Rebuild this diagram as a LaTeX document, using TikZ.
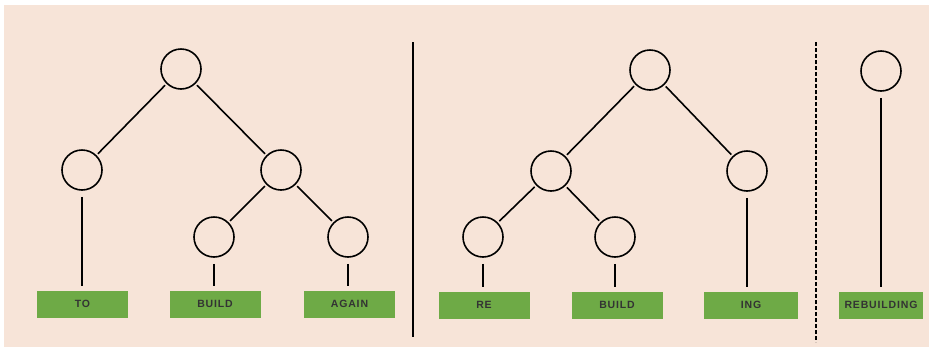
\documentclass[tikz,border=0pt]{standalone}
\usepackage{fontspec}
\newfontfamily\wordfont[LetterSpace=8]{Liberation Sans}
\usepackage{xcolor}
\usetikzlibrary{positioning}
\definecolor{paper}{RGB}{247,228,216}
\definecolor{leafgreen}{RGB}{110,170,70}

\begin{document}
\begin{tikzpicture}[x=1pt,y=-1pt,line width=1.6pt,
  nd/.style={draw,circle,minimum size=40pt,inner sep=0pt},
  word/.style={fill=leafgreen,minimum width=91pt,minimum height=27pt,inner sep=1pt,
    font=\wordfont\fontsize{10.5}{12}\selectfont\bfseries,text=black!80},
  ln/.style={shorten <=2pt,shorten >=2pt},
  stem/.style={shorten <=6pt,shorten >=4pt}]
\useasboundingbox (0,0) rectangle (929,349);
\fill[white] (0,0) rectangle (929,349);
\fill[paper] (4,5) rectangle (929,347);

% to build again
\node[nd] (a0) at (181,69) {};
\node[nd] (a1) at (82,170) {};
\node[nd] (a2) at (281,170) {};
\node[nd] (a3) at (214,237) {};
\node[nd] (a4) at (348,237) {};
\node[word] (to) at (82.5,304) {TO};
\node[word] (build) at (215,304) {BUILD};
\node[word] (again) at (349.5,304) {AGAIN};
\draw[ln] (a0) -- (a1); \draw[ln] (a0) -- (a2);
\draw[ln] (a2) -- (a3); \draw[ln] (a2) -- (a4);
\draw[stem] (a1.south) -- (a1.south |- to.north);
\draw[stem] (a3.south) -- (a3.south |- build.north);
\draw[stem] (a4.south) -- (a4.south |- again.north);

\draw (413,42) -- (413,337);

% re build ing
\node[nd] (b0) at (650,70) {};
\node[nd] (b1) at (551,171) {};
\node[nd] (b2) at (747,171) {};
\node[nd] (b3) at (483,237) {};
\node[nd] (b4) at (615,237) {};
\node[word] (re) at (484,305) {RE};
\node[word] (build2) at (617,305) {BUILD};
\node[word,minimum width=94pt] (ing) at (751,305) {ING};
\draw[ln] (b0) -- (b1); \draw[ln] (b0) -- (b2);
\draw[ln] (b1) -- (b3); \draw[ln] (b1) -- (b4);
\draw[stem] (b3.south) -- (b3.south |- re.north);
\draw[stem] (b4.south) -- (b4.south |- build2.north);
\draw[stem] (b2.south) -- (b2.south |- ing.north);

\draw[line width=1.3pt,dash pattern=on 4pt off 2pt] (816,42) -- (816,342);

% one word
\node[nd] (c0) at (881,71) {};
\node[word,minimum width=84pt] (rebuilding) at (881,305) {REBUILDING};
\draw[stem] (c0.south) -- (c0.south |- rebuilding.north);
\end{tikzpicture}
\end{document}
